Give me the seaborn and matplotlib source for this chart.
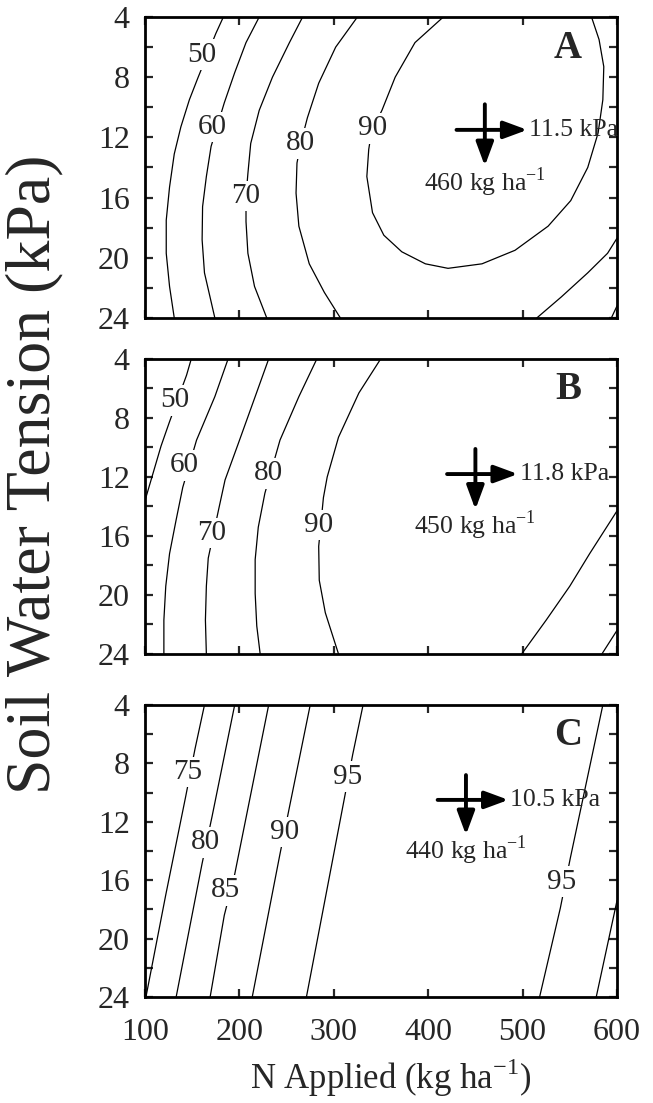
import numpy as np
import pandas as pd
import matplotlib
matplotlib.use("Agg")
import matplotlib.pyplot as plt
import seaborn as sns

# optimum marked on each panel
panel_names = ["A", "B", "C"]
opt_n = [460, 450, 440]        # kg ha-1
opt_t = [11.5, 11.8, 10.5]     # kPa

# contour lines (N applied, soil water tension)
a_levels = ["50", "60", "70", "80", "90", "80", "70"]
a_n = [
    [183, 175, 156, 147, 138, 131, 126, 122.5, 122.5, 126, 131],
    [221, 207, 195, 184, 170, 165, 161, 160.5, 163, 174],
    [267, 253, 235, 221, 212, 209, 207, 207, 209, 216, 229],
    [325, 302, 284, 272, 265, 261, 260, 263, 274, 290, 307],
    [416, 386, 365, 351, 340, 337, 335, 341, 353, 372, 397, 421, 457, 492, 527, 551, 569, 580, 585, 586, 581, 573],
    [515, 541, 569, 590, 600],
    [594, 600],
]
a_t = [
    [4.0, 5.1, 8.05, 9.5, 11.3, 13.1, 15.3, 17.5, 19.7, 21.9, 24.0],
    [4.0, 5.7, 7.7, 9.7, 12.6, 14.6, 16.6, 18.8, 21.0, 24.0],
    [4.0, 5.7, 8.0, 10.2, 12.4, 14.4, 15.9, 17.6, 19.7, 21.9, 24.0],
    [4.0, 6.0, 8.4, 10.7, 12.4, 13.7, 15.7, 17.9, 20.4, 22.3, 24.0],
    [4.0, 5.7, 8.0, 10.2, 11.6, 12.8, 14.6, 17.0, 18.5, 19.6, 20.4, 20.7, 20.4, 19.5, 17.9, 16.2, 14.0, 11.7, 9.5, 7.3, 5.5, 4.0],
    [24.0, 22.6, 21.0, 19.7, 18.7],
    [24.0, 23.2],
]
a_lab = ["50", "60", "70", "80", "90"]
a_lab_n = [160, 171, 207, 265, 341]
a_lab_t = [6.5, 11.3, 15.9, 12.4, 11.4]

b_levels = ["50", "60", "70", "80", "90", "80", "70"]
b_n = [
    [149, 144, 126, 117, 108.5, 100],
    [188, 174, 154.6, 140, 133, 126, 122, 120, 120],
    [231, 216.7, 199, 184.8, 178, 167, 165, 164, 165],
    [282, 263, 243, 227, 220, 216.7, 216.7, 218.4, 222],
    [349.6, 326.6, 305, 293, 289, 284, 284.6, 291, 305],
    [499, 525, 550, 571, 589, 600],
    [584, 600],
]
b_t = [
    [4.0, 5.1, 8.25, 9.9, 11.75, 13.6],
    [4.0, 6.55, 9.5, 12.7, 14.9, 17.2, 19.4, 21.7, 24.0],
    [4.0, 6.55, 9.7, 12.2, 14.2, 17.5, 19.4, 21.7, 24.0],
    [4.0, 6.55, 9.5, 13.1, 15.4, 17.6, 19.9, 22.1, 24.0],
    [4.0, 6.3, 9.3, 12.0, 13.4, 16.7, 19.0, 21.2, 24.0],
    [24.0, 21.7, 19.4, 17.2, 15.4, 14.3],
    [24.0, 22.4],
]
b_lab = ["50", "60", "70", "80", "90"]
b_lab_n = [132, 142, 171, 231, 284]
b_lab_t = [6.8, 11.2, 15.8, 11.75, 15.25]

c_levels = ["75", "80", "85", "90", "95", "95", "90"]
c_n = [
    [163, 153, 143, 122, 101],
    [195, 171, 160.5, 133],
    [231, 195, 184, 169],
    [275, 253, 243, 213.6],
    [331, 320, 310.6, 271],
    [585, 550.5, 540, 518],
    [600, 578],
]
c_t = [
    [4.0, 7.0, 10.3, 17.0, 24.0],
    [4.0, 11.65, 14.85, 24.0],
    [4.0, 15.6, 18.4, 24.0],
    [4.0, 11.0, 14.2, 24.0],
    [4.0, 7.4, 10.6, 24.0],
    [4.0, 14.5, 17.9, 24.0],
    [17.4, 24.0],
]
c_lab = ["75", "80", "85", "90", "95", "95"]
c_lab_n = [145, 164, 185, 248, 315, 541]
c_lab_t = [8.6, 13.4, 16.7, 12.7, 8.9, 16.1]

x_ticks = [100, 200, 300, 400, 500, 600]
y_ticks = [4, 6, 8, 10, 12, 14, 16, 18, 20, 22, 24]


def to_frame(levels, ns, ts):
    rows = []
    for i, (lev, n, t) in enumerate(zip(levels, ns, ts)):
        rows.append(pd.DataFrame({"N": n, "T": t, "line": i, "level": lev}))
    return pd.concat(rows, ignore_index=True)


sns.set_style("ticks")
plt.rcParams["font.family"] = ["Liberation Serif", "DejaVu Serif"]
plt.rcParams["mathtext.fontset"] = "custom"
plt.rcParams["mathtext.rm"] = "Liberation Serif"

fig = plt.figure(figsize=(6.53, 11.03), dpi=100)
W, H = 653, 1103
# axes boxes in pixels (left, top, right, bottom)
boxes = [(145, 17, 617, 318), (145, 359, 617, 654), (145, 705, 617, 997)]

panels = [
    (a_levels, a_n, a_t, a_lab, a_lab_n, a_lab_t),
    (b_levels, b_n, b_t, b_lab, b_lab_n, b_lab_t),
    (c_levels, c_n, c_t, c_lab, c_lab_n, c_lab_t),
]

for k, (levels, ns, ts, lab, lab_n, lab_t) in enumerate(panels):
    l, t, r, b = boxes[k]
    ax = fig.add_axes([l / W, 1 - b / H, (r - l) / W, (b - t) / H])
    df = to_frame(levels, ns, ts)
    sns.lineplot(data=df, x="N", y="T", units="line", estimator=None, sort=False,
                 color="black", lw=0.9, ax=ax, legend=False)

    for txt, n, tt in zip(lab, lab_n, lab_t):
        ax.text(n, tt, txt, ha="center", va="center", fontsize=21, zorder=4,
                bbox=dict(boxstyle="square,pad=0.08", fc="white", ec="none"))

    ax.text(548, 6.1, panel_names[k], ha="center", va="center", fontsize=28,
            fontweight="bold")

    # optimum cross
    on, ot = opt_n[k], opt_t[k]
    head = dict(arrowstyle="-|>,head_length=0.65,head_width=0.24", mutation_scale=22,
                lw=2.8, color="black", shrinkA=0, shrinkB=0)
    ax.annotate("", xy=(on + 45, ot), xytext=(on - 30, ot), arrowprops=head, zorder=5)
    ax.annotate("", xy=(on, ot + 2.4), xytext=(on, ot - 1.7), arrowprops=head, zorder=5)
    ax.text(on + 47, ot, f"{ot} kPa", ha="left", va="center", fontsize=18.5, zorder=6)
    ax.text(on, ot + 3.45, f"{on} kg ha" + r"$^{\mathregular{-1}}$", ha="center",
            va="center", fontsize=18.5, zorder=6)

    ax.set_xlim(100, 600)
    ax.set_ylim(24, 4)
    ax.set_xticks(x_ticks)
    ax.set_yticks(y_ticks)
    ax.set_yticklabels([str(v) if v % 4 == 0 else "" for v in y_ticks])
    ax.tick_params(direction="in", top=True, right=True, length=6, width=1.6,
                   labelsize=23, pad=11)
    ax.tick_params(axis="x", pad=15, labelbottom=(k == 2))
    ax.set_xlabel("")
    ax.set_ylabel("")
    for sp in ax.spines.values():
        sp.set_linewidth(2.0)
        sp.set_color("black")

fig.text(391 / W, 1 - 1078 / H, r"N Applied (kg ha$^{\mathregular{-1}}$)", ha="center",
         va="center", fontsize=25)
fig.text(0.052, 0.57, "Soil Water Tension (kPa)", rotation=90, ha="center",
         va="center", fontsize=46)

fig.savefig("out.png", dpi=100)
